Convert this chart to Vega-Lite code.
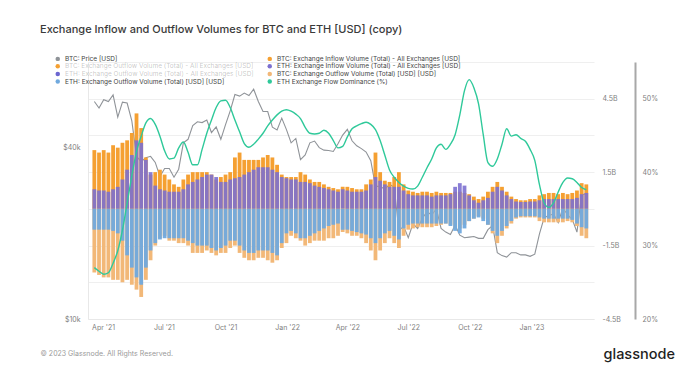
{
  "$schema": "https://vega.github.io/schema/vega-lite/v6.json",
  "width": 506,
  "height": 257,
  "autosize": {"type": "none"},
  "padding": {"left": 88, "top": 62, "right": 94, "bottom": 58},
  "background": "white",
  "config": {
    "view": {"stroke": null},
    "font": "Inter",
    "axis": {"labelFont": "Inter", "labelFontSize": 7, "labelColor": "#808080", "ticks": false, "grid": false, "domain": false, "titleFont": "Inter"}
  },
  "title": {"text": "Exchange Inflow and Outflow Volumes for BTC and ETH [USD] (copy)", "anchor": "start", "frame": "group", "dx": -48, "offset": 21, "fontSize": 11, "fontWeight": 500, "color": "#3a3a3a", "font": "Inter"},
  "datasets": {
    "w": [
      {"date":"2021-03-19","price":58100,"btcIn":2.4,"ethIn":0.8,"btcOut":-2.6,"ethOut":-0.85,"dom":27.0},
      {"date":"2021-03-26","price":55100,"btcIn":2.3,"ethIn":0.75,"btcOut":-2.7,"ethOut":-0.85,"dom":26.5},
      {"date":"2021-04-02","price":59000,"btcIn":2.4,"ethIn":0.75,"btcOut":-2.8,"ethOut":-0.85,"dom":26.1},
      {"date":"2021-04-09","price":58100,"btcIn":2.3,"ethIn":0.7,"btcOut":-2.8,"ethOut":-0.85,"dom":26.3},
      {"date":"2021-04-16","price":61300,"btcIn":2.6,"ethIn":0.8,"btcOut":-2.9,"ethOut":-0.9,"dom":27.6},
      {"date":"2021-04-23","price":51200,"btcIn":2.5,"ethIn":0.9,"btcOut":-2.9,"ethOut":-1.0,"dom":29.3},
      {"date":"2021-04-30","price":57800,"btcIn":2.7,"ethIn":1.2,"btcOut":-3.0,"ethOut":-1.3,"dom":32.1},
      {"date":"2021-05-07","price":57400,"btcIn":2.8,"ethIn":1.6,"btcOut":-2.9,"ethOut":-1.9,"dom":35.8},
      {"date":"2021-05-14","price":49700,"btcIn":3.1,"ethIn":2.2,"btcOut":-3.1,"ethOut":-2.4,"dom":39.5},
      {"date":"2021-05-21","price":37300,"btcIn":3.9,"ethIn":2.8,"btcOut":-3.3,"ethOut":-2.8,"dom":42.8},
      {"date":"2021-05-28","price":35700,"btcIn":3.3,"ethIn":2.7,"btcOut":-3.6,"ethOut":-3.1,"dom":44.9},
      {"date":"2021-06-04","price":36900,"btcIn":2.1,"ethIn":2.0,"btcOut":-2.9,"ethOut":-2.4,"dom":46.7},
      {"date":"2021-06-11","price":37300,"btcIn":1.4,"ethIn":1.5,"btcOut":-2.1,"ethOut":-1.7,"dom":47.3},
      {"date":"2021-06-18","price":35500,"btcIn":1.5,"ethIn":0.95,"btcOut":-1.5,"ethOut":-1.4,"dom":46.5},
      {"date":"2021-06-25","price":31700,"btcIn":1.6,"ethIn":0.8,"btcOut":-1.2,"ethOut":-1.25,"dom":44.9},
      {"date":"2021-07-02","price":33800,"btcIn":1.4,"ethIn":0.75,"btcOut":-1.1,"ethOut":-1.2,"dom":42.9},
      {"date":"2021-07-09","price":33800,"btcIn":1.2,"ethIn":0.7,"btcOut":-1.3,"ethOut":-1.2,"dom":41.8},
      {"date":"2021-07-16","price":31500,"btcIn":1.0,"ethIn":0.7,"btcOut":-1.3,"ethOut":-1.2,"dom":41.9},
      {"date":"2021-07-23","price":33600,"btcIn":0.9,"ethIn":0.7,"btcOut":-1.4,"ethOut":-1.2,"dom":43.3},
      {"date":"2021-07-30","price":41600,"btcIn":1.2,"ethIn":0.8,"btcOut":-1.4,"ethOut":-1.2,"dom":44.1},
      {"date":"2021-08-06","price":42800,"btcIn":1.4,"ethIn":1.0,"btcOut":-1.5,"ethOut":-1.3,"dom":42.7},
      {"date":"2021-08-13","price":47800,"btcIn":1.5,"ethIn":1.1,"btcOut":-1.8,"ethOut":-1.4,"dom":41.0},
      {"date":"2021-08-20","price":49300,"btcIn":1.5,"ethIn":1.2,"btcOut":-1.8,"ethOut":-1.5,"dom":41.0},
      {"date":"2021-08-27","price":49000,"btcIn":1.5,"ethIn":1.3,"btcOut":-1.8,"ethOut":-1.5,"dom":43.1},
      {"date":"2021-09-03","price":50000,"btcIn":1.5,"ethIn":1.4,"btcOut":-1.7,"ethOut":-1.5,"dom":45.3},
      {"date":"2021-09-10","price":45200,"btcIn":1.4,"ethIn":1.4,"btcOut":-1.8,"ethOut":-1.6,"dom":47.1},
      {"date":"2021-09-17","price":47300,"btcIn":1.2,"ethIn":1.3,"btcOut":-1.9,"ethOut":-1.7,"dom":48.8},
      {"date":"2021-09-24","price":42800,"btcIn":1.3,"ethIn":1.1,"btcOut":-1.8,"ethOut":-1.6,"dom":49.7},
      {"date":"2021-10-01","price":48200,"btcIn":1.4,"ethIn":1.1,"btcOut":-1.8,"ethOut":-1.5,"dom":49.8},
      {"date":"2021-10-08","price":53900,"btcIn":1.5,"ethIn":1.2,"btcOut":-1.6,"ethOut":-1.3,"dom":48.8},
      {"date":"2021-10-15","price":61500,"btcIn":2.1,"ethIn":1.25,"btcOut":-1.5,"ethOut":-1.3,"dom":47.1},
      {"date":"2021-10-22","price":60700,"btcIn":2.3,"ethIn":1.3,"btcOut":-1.8,"ethOut":-1.5,"dom":45.5},
      {"date":"2021-10-29","price":62200,"btcIn":2.0,"ethIn":1.4,"btcOut":-2.0,"ethOut":-1.7,"dom":43.9},
      {"date":"2021-11-05","price":61000,"btcIn":2.0,"ethIn":1.5,"btcOut":-2.1,"ethOut":-1.8,"dom":43.4},
      {"date":"2021-11-12","price":64200,"btcIn":2.0,"ethIn":1.6,"btcOut":-2.1,"ethOut":-1.8,"dom":43.8},
      {"date":"2021-11-19","price":58100,"btcIn":2.0,"ethIn":1.7,"btcOut":-2.0,"ethOut":-1.7,"dom":44.5},
      {"date":"2021-11-26","price":53600,"btcIn":2.1,"ethIn":1.7,"btcOut":-2.0,"ethOut":-1.7,"dom":45.3},
      {"date":"2021-12-03","price":53600,"btcIn":2.2,"ethIn":1.7,"btcOut":-2.1,"ethOut":-1.7,"dom":46.3},
      {"date":"2021-12-10","price":47200,"btcIn":2.1,"ethIn":1.6,"btcOut":-2.2,"ethOut":-1.8,"dom":47.1},
      {"date":"2021-12-17","price":46200,"btcIn":1.8,"ethIn":1.5,"btcOut":-2.1,"ethOut":-1.9,"dom":47.8},
      {"date":"2021-12-24","price":50800,"btcIn":1.4,"ethIn":1.3,"btcOut":-1.6,"ethOut":-1.4,"dom":48.3},
      {"date":"2021-12-31","price":46300,"btcIn":1.3,"ethIn":1.25,"btcOut":-1.4,"ethOut":-1.0,"dom":48.5},
      {"date":"2022-01-07","price":41600,"btcIn":1.3,"ethIn":1.2,"btcOut":-1.1,"ethOut":-0.9,"dom":48.3},
      {"date":"2022-01-14","price":43100,"btcIn":1.3,"ethIn":1.2,"btcOut":-1.2,"ethOut":-1.0,"dom":47.9},
      {"date":"2022-01-21","price":36300,"btcIn":1.5,"ethIn":1.1,"btcOut":-1.3,"ethOut":-1.2,"dom":47.3},
      {"date":"2022-01-28","price":37700,"btcIn":1.4,"ethIn":1.1,"btcOut":-1.5,"ethOut":-1.2,"dom":46.1},
      {"date":"2022-02-04","price":41600,"btcIn":1.2,"ethIn":1.05,"btcOut":-1.4,"ethOut":-1.1,"dom":45.3},
      {"date":"2022-02-11","price":42200,"btcIn":1.1,"ethIn":0.95,"btcOut":-1.3,"ethOut":-1.0,"dom":45.2},
      {"date":"2022-02-18","price":40000,"btcIn":1.1,"ethIn":0.9,"btcOut":-1.3,"ethOut":-0.9,"dom":45.3},
      {"date":"2022-02-25","price":39200,"btcIn":1.0,"ethIn":0.85,"btcOut":-1.3,"ethOut":-0.8,"dom":45.7},
      {"date":"2022-03-04","price":39100,"btcIn":0.9,"ethIn":0.8,"btcOut":-1.2,"ethOut":-0.7,"dom":45.3},
      {"date":"2022-03-11","price":38800,"btcIn":0.85,"ethIn":0.75,"btcOut":-1.2,"ethOut":-0.65,"dom":44.3},
      {"date":"2022-03-18","price":41300,"btcIn":0.8,"ethIn":0.7,"btcOut":-1.1,"ethOut":-0.6,"dom":43.3},
      {"date":"2022-03-25","price":44300,"btcIn":0.9,"ethIn":0.8,"btcOut":-0.95,"ethOut":-0.85,"dom":43.5},
      {"date":"2022-04-01","price":46400,"btcIn":0.9,"ethIn":0.75,"btcOut":-1.0,"ethOut":-0.85,"dom":44.8},
      {"date":"2022-04-08","price":42300,"btcIn":0.85,"ethIn":0.7,"btcOut":-1.1,"ethOut":-0.9,"dom":45.9},
      {"date":"2022-04-15","price":40600,"btcIn":0.8,"ethIn":0.7,"btcOut":-1.1,"ethOut":-0.95,"dom":46.3},
      {"date":"2022-04-22","price":39700,"btcIn":0.8,"ethIn":0.7,"btcOut":-1.2,"ethOut":-1.0,"dom":46.6},
      {"date":"2022-04-29","price":38600,"btcIn":1.0,"ethIn":0.75,"btcOut":-1.4,"ethOut":-1.05,"dom":46.8},
      {"date":"2022-05-06","price":36000,"btcIn":1.2,"ethIn":1.0,"btcOut":-1.7,"ethOut":-1.2,"dom":46.5},
      {"date":"2022-05-13","price":29300,"btcIn":2.3,"ethIn":1.3,"btcOut":-2.1,"ethOut":-1.4,"dom":45.8},
      {"date":"2022-05-20","price":29200,"btcIn":1.5,"ethIn":1.15,"btcOut":-1.7,"ethOut":-1.2,"dom":44.3},
      {"date":"2022-05-27","price":28600,"btcIn":1.15,"ethIn":1.0,"btcOut":-1.4,"ethOut":-1.0,"dom":42.3},
      {"date":"2022-06-03","price":29700,"btcIn":1.1,"ethIn":0.9,"btcOut":-1.2,"ethOut":-0.9,"dom":40.3},
      {"date":"2022-06-10","price":29100,"btcIn":1.3,"ethIn":0.9,"btcOut":-1.4,"ethOut":-1.1,"dom":39.3},
      {"date":"2022-06-17","price":20400,"btcIn":1.5,"ethIn":0.9,"btcOut":-1.6,"ethOut":-1.25,"dom":38.6},
      {"date":"2022-06-24","price":21200,"btcIn":1.0,"ethIn":0.75,"btcOut":-1.1,"ethOut":-0.8,"dom":38.1},
      {"date":"2022-07-01","price":19300,"btcIn":0.75,"ethIn":0.6,"btcOut":-0.85,"ethOut":-0.65,"dom":37.8},
      {"date":"2022-07-08","price":21600,"btcIn":0.7,"ethIn":0.55,"btcOut":-0.8,"ethOut":-0.6,"dom":37.7},
      {"date":"2022-07-15","price":20800,"btcIn":0.65,"ethIn":0.55,"btcOut":-0.75,"ethOut":-0.6,"dom":38.1},
      {"date":"2022-07-22","price":22600,"btcIn":0.7,"ethIn":0.55,"btcOut":-0.75,"ethOut":-0.6,"dom":39.3},
      {"date":"2022-07-29","price":23800,"btcIn":0.7,"ethIn":0.55,"btcOut":-0.75,"ethOut":-0.6,"dom":40.6},
      {"date":"2022-08-05","price":23200,"btcIn":0.65,"ethIn":0.5,"btcOut":-0.75,"ethOut":-0.6,"dom":41.8},
      {"date":"2022-08-12","price":24400,"btcIn":0.7,"ethIn":0.55,"btcOut":-0.7,"ethOut":-0.6,"dom":43.3},
      {"date":"2022-08-19","price":20800,"btcIn":0.65,"ethIn":0.55,"btcOut":-0.65,"ethOut":-0.6,"dom":43.8},
      {"date":"2022-08-26","price":20200,"btcIn":0.65,"ethIn":0.55,"btcOut":-0.6,"ethOut":-0.6,"dom":43.1},
      {"date":"2022-09-02","price":19800,"btcIn":0.65,"ethIn":0.6,"btcOut":-0.65,"ethOut":-0.7,"dom":43.8},
      {"date":"2022-09-09","price":21400,"btcIn":0.7,"ethIn":0.9,"btcOut":-0.8,"ethOut":-0.9,"dom":45.1},
      {"date":"2022-09-16","price":19700,"btcIn":0.7,"ethIn":1.05,"btcOut":-0.8,"ethOut":-1.0,"dom":47.8},
      {"date":"2022-09-23","price":19300,"btcIn":0.65,"ethIn":0.95,"btcOut":-0.65,"ethOut":-0.8,"dom":51.1},
      {"date":"2022-09-30","price":19400,"btcIn":0.6,"ethIn":0.55,"btcOut":-0.5,"ethOut":-0.5,"dom":52.6},
      {"date":"2022-10-07","price":19500,"btcIn":0.5,"ethIn":0.35,"btcOut":-0.4,"ethOut":-0.4,"dom":51.5},
      {"date":"2022-10-14","price":19200,"btcIn":0.4,"ethIn":0.25,"btcOut":-0.3,"ethOut":-0.35,"dom":49.3},
      {"date":"2022-10-21","price":19200,"btcIn":0.5,"ethIn":0.35,"btcOut":-0.4,"ethOut":-0.5,"dom":45.1},
      {"date":"2022-10-28","price":20600,"btcIn":0.7,"ethIn":0.45,"btcOut":-0.65,"ethOut":-0.65,"dom":41.3},
      {"date":"2022-11-04","price":21300,"btcIn":0.9,"ethIn":0.7,"btcOut":-1.0,"ethOut":-0.9,"dom":40.8},
      {"date":"2022-11-11","price":17100,"btcIn":1.1,"ethIn":0.9,"btcOut":-1.4,"ethOut":-1.1,"dom":41.8},
      {"date":"2022-11-18","price":16700,"btcIn":0.9,"ethIn":0.75,"btcOut":-1.1,"ethOut":-0.9,"dom":43.8},
      {"date":"2022-11-25","price":16500,"btcIn":0.7,"ethIn":0.55,"btcOut":-0.8,"ethOut":-0.7,"dom":45.9},
      {"date":"2022-12-02","price":17100,"btcIn":0.5,"ethIn":0.4,"btcOut":-0.6,"ethOut":-0.5,"dom":44.9},
      {"date":"2022-12-09","price":17100,"btcIn":0.4,"ethIn":0.3,"btcOut":-0.4,"ethOut":-0.35,"dom":45.1},
      {"date":"2022-12-16","price":16800,"btcIn":0.35,"ethIn":0.28,"btcOut":-0.35,"ethOut":-0.3,"dom":44.6},
      {"date":"2022-12-23","price":16800,"btcIn":0.35,"ethIn":0.28,"btcOut":-0.35,"ethOut":-0.3,"dom":44.2},
      {"date":"2022-12-30","price":16600,"btcIn":0.4,"ethIn":0.3,"btcOut":-0.35,"ethOut":-0.3,"dom":43.1},
      {"date":"2023-01-06","price":16900,"btcIn":0.4,"ethIn":0.3,"btcOut":-0.35,"ethOut":-0.3,"dom":41.6},
      {"date":"2023-01-13","price":19900,"btcIn":0.55,"ethIn":0.35,"btcOut":-0.5,"ethOut":-0.35,"dom":38.3},
      {"date":"2023-01-20","price":22700,"btcIn":0.6,"ethIn":0.4,"btcOut":-0.55,"ethOut":-0.4,"dom":35.8},
      {"date":"2023-01-27","price":23100,"btcIn":0.65,"ethIn":0.4,"btcOut":-0.55,"ethOut":-0.4,"dom":35.2},
      {"date":"2023-02-03","price":23400,"btcIn":0.65,"ethIn":0.4,"btcOut":-0.55,"ethOut":-0.4,"dom":35.8},
      {"date":"2023-02-10","price":21800,"btcIn":0.6,"ethIn":0.4,"btcOut":-0.55,"ethOut":-0.4,"dom":37.3},
      {"date":"2023-02-17","price":24600,"btcIn":0.65,"ethIn":0.4,"btcOut":-0.55,"ethOut":-0.4,"dom":38.6},
      {"date":"2023-02-24","price":23200,"btcIn":0.6,"ethIn":0.4,"btcOut":-0.5,"ethOut":-0.4,"dom":39.2},
      {"date":"2023-03-03","price":22400,"btcIn":0.65,"ethIn":0.4,"btcOut":-0.55,"ethOut":-0.45,"dom":39.1},
      {"date":"2023-03-10","price":20200,"btcIn":0.75,"ethIn":0.45,"btcOut":-0.7,"ethOut":-0.6,"dom":38.6},
      {"date":"2023-03-17","price":27400,"btcIn":1.05,"ethIn":0.6,"btcOut":-1.1,"ethOut":-0.75,"dom":37.9},
      {"date":"2023-03-24","price":27500,"btcIn":1.0,"ethIn":0.65,"btcOut":-1.2,"ethOut":-0.8,"dom":37.6}
    ]
  },
  "data": {"name": "w"},
  "encoding": {
    "x": {
      "field": "date", "type": "temporal",
      "scale": {"domain": [{"year": 2021, "month": 3, "date": 17}, {"year": 2023, "month": 3, "date": 28}]},
      "axis": {
        "values": [
          {"year": 2021, "month": 4, "date": 1}, {"year": 2021, "month": 7, "date": 1}, {"year": 2021, "month": 10, "date": 1},
          {"year": 2022, "month": 1, "date": 1}, {"year": 2022, "month": 4, "date": 1}, {"year": 2022, "month": 7, "date": 1},
          {"year": 2022, "month": 10, "date": 1}, {"year": 2023, "month": 1, "date": 1}
        ],
        "format": "%b '%y", "labelPadding": 4, "domain": true, "domainColor": "#e8e8e8",
        "title": "© 2023 Glassnode. All Rights Reserved.", "titleX": -48, "titleY": 34, "titleAlign": "left", "titleBaseline": "middle",
        "titleFontSize": 7, "titleFontWeight": "normal", "titleColor": "#9a9a9a"
      }
    }
  },
  "layer": [
    {
      "mark": {"type": "line", "strokeWidth": 1.1},
      "encoding": {
        "y": {"field": "price", "type": "quantitative", "scale": {"type": "log", "domain": [10000, 80000]},
          "axis": {"orient": "left", "values": [10000, 40000], "labelExpr": "'$' + datum.value / 1000 + 'k'", "labelPadding": 8, "domain": true, "domainColor": "#e8e8e8", "title": null}},
        "color": {
          "datum": "BTC: Price [USD]",
          "scale": {
            "domain": [
              "BTC: Price [USD]",
              "BTC: Exchange Outflow Volume (Total) - All Exchanges [USD]",
              "ETH: Exchange Outflow Volume (Total) - All Exchanges [USD]",
              "ETH: Exchange Outflow Volume (Total) [USD] [USD]",
              "BTC: Exchange Inflow Volume (Total) - All Exchanges [USD]",
              "ETH: Exchange Inflow Volume (Total) - All Exchanges [USD]",
              "BTC: Exchange Outflow Volume (Total) [USD] [USD]",
              "ETH Exchange Flow Dominance (%)"
            ],
            "range": ["#8f9398", "#f5a032", "#6b66d0", "#70a9de", "#f5a032", "#7c70d0", "#f2b878", "#2fc99a"]
          },
          "legend": {
            "orient": "none", "legendX": -33.5, "legendY": -6.5, "columns": 2, "title": null, "padding": 0,
            "symbolType": "circle", "symbolSize": 20, "labelFont": "Inter", "labelFontSize": 6.5, "labelColor": "#444",
            "labelLimit": 400, "labelOffset": 4, "columnPadding": 12, "rowPadding": 0.6,
            "encode": {
              "symbols": {"update": {"fill": {"scale": "color", "field": "value"}, "fillOpacity": {"value": 1}, "strokeWidth": {"value": 0}}},
              "labels": {"update": {"fillOpacity": {"signal": "indexof(['BTC: Exchange Outflow Volume (Total) - All Exchanges [USD]', 'ETH: Exchange Outflow Volume (Total) - All Exchanges [USD]'], datum.value) >= 0 ? 0.3 : 1"}}}
            }
          }
        }
      }
    },
    {
      "layer": [
        {
          "mark": {"type": "bar", "width": 3.8},
          "encoding": {
            "y": {"field": "btcIn", "type": "quantitative", "scale": {"domain": [-4.5, 6]},
              "axis": {"orient": "right", "values": [-4.5, -3, -1.5, 0, 1.5, 3, 4.5, 6], "labelExpr": "abs(datum.value) == 1.5 || abs(datum.value) == 4.5 ? datum.value + 'B' : ''", "labelPadding": 8, "grid": true, "gridColor": "#efefef", "title": null}},
            "color": {"datum": "BTC: Exchange Inflow Volume (Total) - All Exchanges [USD]"}
          }
        },
        {
          "mark": {"type": "bar", "width": 3.8, "opacity": 0.9},
          "encoding": {
            "y": {"field": "ethIn", "type": "quantitative", "scale": {"domain": [-4.5, 6]},
              "axis": {"orient": "right", "values": [-4.5, -3, -1.5, 0, 1.5, 3, 4.5, 6], "labelExpr": "abs(datum.value) == 1.5 || abs(datum.value) == 4.5 ? datum.value + 'B' : ''", "labelPadding": 8, "grid": true, "gridColor": "#efefef", "title": null}},
            "color": {"datum": "ETH: Exchange Inflow Volume (Total) - All Exchanges [USD]"}
          }
        },
        {
          "mark": {"type": "bar", "width": 3.8},
          "encoding": {
            "y": {"field": "btcOut", "type": "quantitative", "scale": {"domain": [-4.5, 6]},
              "axis": {"orient": "right", "values": [-4.5, -3, -1.5, 0, 1.5, 3, 4.5, 6], "labelExpr": "abs(datum.value) == 1.5 || abs(datum.value) == 4.5 ? datum.value + 'B' : ''", "labelPadding": 8, "grid": true, "gridColor": "#efefef", "title": null}},
            "color": {"datum": "BTC: Exchange Outflow Volume (Total) [USD] [USD]"}
          }
        },
        {
          "mark": {"type": "bar", "width": 3.8, "opacity": 0.95},
          "encoding": {
            "y": {"field": "ethOut", "type": "quantitative", "scale": {"domain": [-4.5, 6]},
              "axis": {"orient": "right", "values": [-4.5, -3, -1.5, 0, 1.5, 3, 4.5, 6], "labelExpr": "abs(datum.value) == 1.5 || abs(datum.value) == 4.5 ? datum.value + 'B' : ''", "labelPadding": 8, "grid": true, "gridColor": "#efefef", "title": null}},
            "color": {"datum": "ETH: Exchange Outflow Volume (Total) [USD] [USD]"}
          }
        }
      ]
    },
    {
      "data": {"values": [{"marker": "latest"}]},
      "mark": {"type": "rect", "color": "#f59a88", "opacity": 0.55},
      "encoding": {
        "x": {"datum": {"year": 2023, "month": 3, "date": 21}, "type": "temporal"},
        "x2": {"datum": {"year": 2023, "month": 3, "date": 28}}
      }
    },
    {
      "mark": {"type": "line", "strokeWidth": 1.4, "interpolate": "monotone"},
      "encoding": {
        "y": {"field": "dom", "type": "quantitative", "scale": {"domain": [20, 55]},
          "axis": {"orient": "right", "offset": 41, "values": [20, 30, 40, 50], "labelExpr": "datum.value + '%'", "labelPadding": 7,
            "domain": true, "domainColor": "#a8a8a8", "domainWidth": 2,
            "title": "glassnode", "titleX": -32, "titleY": 292, "titleAngle": 0, "titleAlign": "left", "titleBaseline": "middle",
            "titleFontSize": 14.5, "titleFontWeight": 500, "titleColor": "#1e1e1e"}},
        "color": {"datum": "ETH Exchange Flow Dominance (%)"}
      }
    }
  ],
  "resolve": {"scale": {"y": "independent"}, "axis": {"y": "independent"}}
}
